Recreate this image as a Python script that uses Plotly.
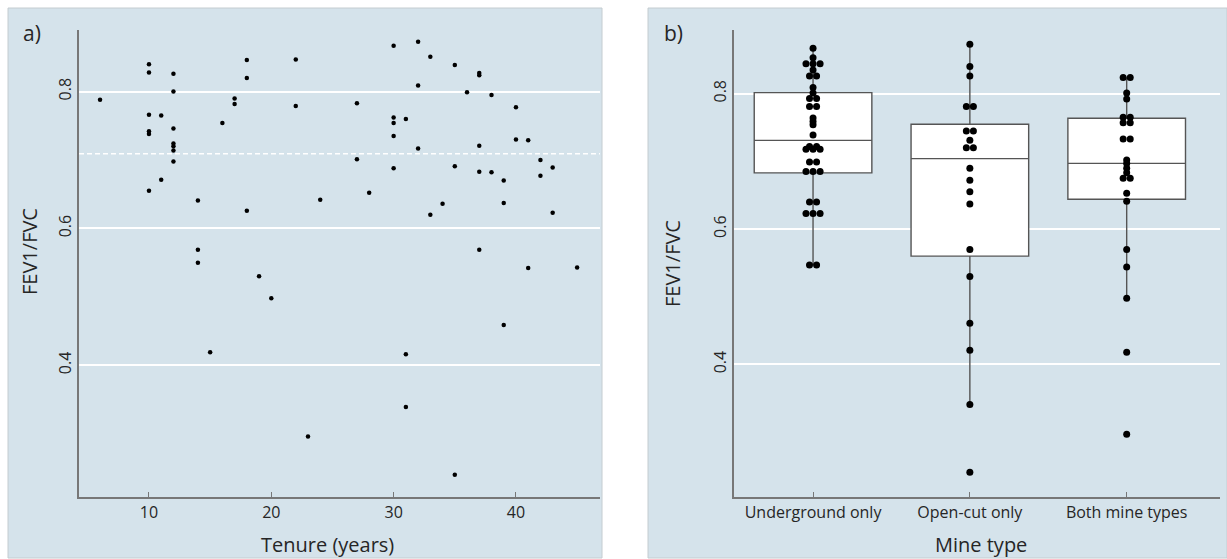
import plotly.graph_objects as go
from collections import Counter

# Panel a) tenure vs FEV1/FVC
tenure = [6, 10, 10, 12, 12, 18, 18, 17, 17, 22, 22, 10, 11, 16, 10, 10, 12, 12, 12, 12,
          12, 11, 10, 14, 18, 14, 14, 19, 20, 15, 30, 32, 33, 35, 37, 37, 32, 36, 38, 40,
          27, 30, 30, 31, 30, 32, 37, 40, 41, 27, 30, 35, 37, 38, 39, 42, 43, 42, 24, 28,
          34, 39, 33, 43, 37, 41, 45, 39, 31, 23, 31, 35]
fev_ratio = [0.788, 0.840, 0.828, 0.826, 0.800, 0.846, 0.820, 0.790, 0.782, 0.847,
             0.779, 0.766, 0.765, 0.754, 0.742, 0.738, 0.746, 0.724, 0.720, 0.714,
             0.698, 0.671, 0.655, 0.641, 0.626, 0.569, 0.550, 0.530, 0.498, 0.419,
             0.867, 0.873, 0.851, 0.839, 0.827, 0.824, 0.809, 0.799, 0.795, 0.777,
             0.783, 0.762, 0.754, 0.760, 0.735, 0.717, 0.721, 0.730, 0.729, 0.701,
             0.688, 0.691, 0.683, 0.682, 0.670, 0.700, 0.689, 0.677, 0.642, 0.652,
             0.636, 0.637, 0.620, 0.623, 0.569, 0.542, 0.543, 0.459, 0.416, 0.296,
             0.339, 0.240]
reference_ratio = 0.709

# Panel b) FEV1/FVC by mine type
mine_types = ["Underground only", "Open-cut only", "Both mine types"]
underground = [0.867, 0.853, 0.844, 0.844, 0.844, 0.835, 0.826, 0.826, 0.809, 0.801,
               0.793, 0.793, 0.781, 0.781, 0.764, 0.759, 0.754, 0.739, 0.722, 0.722,
               0.718, 0.718, 0.718, 0.699, 0.699, 0.685, 0.685, 0.685, 0.640, 0.640,
               0.623, 0.623, 0.623, 0.547, 0.547]
open_cut = [0.873, 0.840, 0.826, 0.781, 0.781, 0.745, 0.745, 0.731, 0.720, 0.720,
            0.690, 0.672, 0.655, 0.637, 0.570, 0.530, 0.461, 0.421, 0.341, 0.241]
both_types = [0.824, 0.824, 0.801, 0.792, 0.765, 0.765, 0.757, 0.757, 0.733, 0.733,
              0.702, 0.697, 0.690, 0.683, 0.675, 0.675, 0.653, 0.641, 0.570, 0.544,
              0.498, 0.418, 0.297]
box_q1 = [0.683, 0.560, 0.644]
box_median = [0.731, 0.704, 0.697]
box_q3 = [0.8015, 0.7548, 0.7636]
box_low = [0.547, 0.341, 0.498]
box_high = [0.867, 0.873, 0.824]

W, H = 1227, 559
BG = "#d5e3eb"
AXIS = "#777777"
TEXT = "#262626"
FONT = "Open Sans"


def px(x):
    return x / W


def py(y):
    return 1 - y / H


def dot_offsets(values, step=0.045):
    """Spread tied values side by side, centred on the category."""
    counts = Counter(values)
    seen = Counter()
    out = []
    for v in values:
        k = counts[v]
        i = seen[v]
        seen[v] += 1
        out.append((i - (k - 1) / 2) * step)
    return out


fig = go.Figure()

fig.add_trace(go.Scatter(
    x=tenure, y=fev_ratio, mode="markers",
    marker=dict(color="black", size=4.5),
    xaxis="x", yaxis="y", showlegend=False, hoverinfo="x+y"))

fig.add_trace(go.Box(
    x=[0, 1, 2], q1=box_q1, median=box_median, q3=box_q3,
    lowerfence=box_low, upperfence=box_high,
    width=0.75, whiskerwidth=0, boxpoints=False,
    fillcolor="white", line=dict(color="#555555", width=1.4),
    xaxis="x2", yaxis="y2", showlegend=False))

for pos, group in enumerate([underground, open_cut, both_types]):
    offs = dot_offsets(group)
    fig.add_trace(go.Scatter(
        x=[pos + o for o in offs], y=group, mode="markers",
        marker=dict(color="black", size=7),
        xaxis="x2", yaxis="y2", showlegend=False, hoverinfo="y"))

panel_border = "#c4ccd0"
shapes = [
    dict(type="rect", xref="paper", yref="paper", x0=px(8), x1=px(602), y0=py(558), y1=py(8),
         fillcolor=BG, line=dict(color=panel_border, width=1), layer="below"),
    dict(type="rect", xref="paper", yref="paper", x0=px(648), x1=px(1227), y0=py(558), y1=py(8),
         fillcolor=BG, line=dict(color=panel_border, width=1), layer="below"),
    dict(type="line", xref="x domain", yref="y", x0=0, x1=1, y0=reference_ratio, y1=reference_ratio,
         line=dict(color="white", width=1.5, dash="5px,3px"), layer="below"),
]

common_y = dict(showgrid=True, gridcolor="white", gridwidth=1.6, zeroline=False,
                showline=True, linecolor=AXIS, linewidth=1.5, ticks="",
                tickvals=[0.4, 0.6, 0.8], ticktext=["0.4", "0.6", "0.8"], tickangle=-90,
                tickfont=dict(family=FONT, size=16, color=TEXT))
common_x = dict(showgrid=False, zeroline=False, showline=True, linecolor=AXIS, linewidth=1.5,
                ticks="inside", ticklen=5, tickcolor=AXIS, tickwidth=1.2,
                tickfont=dict(family=FONT, size=16, color=TEXT))

ydom = [py(497), py(30)]


def label(text, x, y, size, angle=0, xanchor="center"):
    return dict(text=text, x=px(x), y=py(y), xref="paper", yref="paper",
                xanchor=xanchor, yanchor="middle", textangle=angle, showarrow=False,
                font=dict(family=FONT, size=size, color=TEXT))


annotations = [
    label("a)", 21, 33, 21, xanchor="left"),
    label("b)", 662, 33, 21, xanchor="left"),
    label("FEV1/FVC", 29, 252, 20, angle=-90),
    label("FEV1/FVC", 672, 264, 20, angle=-90),
    label("Tenure (years)", 327, 544, 20),
    label("Mine type", 981, 544, 20),
]

fig.update_layout(
    width=W, height=H, margin=dict(l=0, r=0, t=0, b=0),
    paper_bgcolor="white", plot_bgcolor="rgba(0,0,0,0)",
    xaxis=dict(domain=[px(79), px(600)], range=[4.28, 46.87],
               tickvals=[10, 20, 30, 40], anchor="y", **common_x),
    yaxis=dict(domain=ydom, range=[0.2075, 0.890], anchor="x", **common_y),
    xaxis2=dict(domain=[px(734), px(1220)], range=[-0.504, 2.595],
                tickvals=[0, 1, 2], ticktext=mine_types, anchor="y2", **common_x),
    yaxis2=dict(domain=ydom, range=[0.2043, 0.894], anchor="x2", **common_y),
    shapes=shapes, annotations=annotations, showlegend=False,
)

fig.write_html("out.html")
